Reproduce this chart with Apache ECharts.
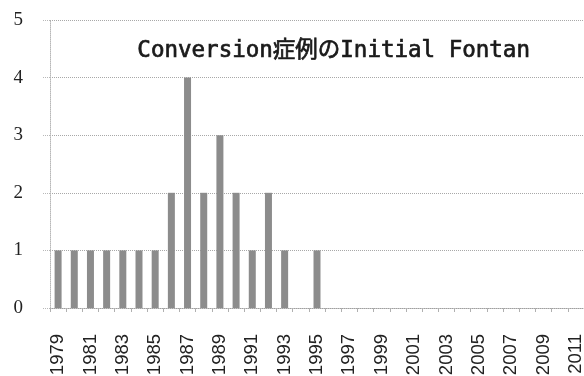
<!DOCTYPE html>
<html>
<head>
<meta charset="utf-8">
<script src="https://cdn.jsdelivr.net/npm/echarts@6/dist/echarts.min.js"></script>
<style>
  html, body { margin: 0; padding: 0; background: #fff; }
  #chart { width: 584px; height: 376px; }
</style>
</head>
<body>
<div id="chart"></div>
<script>
// Years of the initial Fontan operation
const years = [];
for (let y = 1979; y <= 2011; y++) years.push(String(y));

// Number of conversion cases per year of initial Fontan
const cases = [1, 1, 1, 1, 1, 1, 1, 2, 4, 2, 3, 2, 1, 2, 1, 0, 1,
               0, 0, 0, 0, 0, 0, 0, 0, 0, 0, 0, 0, 0, 0, 0, 0];

const yTicks = [0, 1, 2, 3, 4, 5];
const chartTitle = 'Conversion症例のInitial Fontan';

const chart = echarts.init(document.getElementById('chart'), null, { renderer: 'canvas' });

chart.setOption({
  animation: false,
  backgroundColor: '#ffffff',
  grid: { left: 50, right: 0, top: 20, bottom: 68, outerBoundsMode: 'none', containLabel: false },
  graphic: [{
    type: 'text',
    left: 137,
    top: 40,
    style: {
      text: chartTitle,
      font: '22.5px "DejaVu Sans Mono", "Noto Sans CJK JP", monospace',
      fill: '#1a1a1a',
      stroke: '#1a1a1a',
      lineWidth: 0.7
    }
  }],
  xAxis: {
    type: 'category',
    data: years,
    boundaryGap: true,
    axisLine: { show: true, lineStyle: { color: '#a0a0a0', type: 'dotted', width: 1 } },
    axisTick: { show: true, interval: 0, length: 4, lineStyle: { color: '#b0b0b0' } },
    axisLabel: {
      interval: 1,
      rotate: 90,
      margin: 26,
      color: '#222',
      fontFamily: 'Liberation Sans, Arial, sans-serif',
      fontSize: 18.5
    }
  },
  yAxis: {
    type: 'value',
    min: yTicks[0],
    max: yTicks[yTicks.length - 1],
    interval: 1,
    axisLine: { show: true, lineStyle: { color: '#b8b8b8', type: 'dotted' } },
    axisTick: { show: true, length: 8, lineStyle: { color: '#b8b8b8', type: 'dotted' } },
    splitLine: { show: true, lineStyle: { color: '#a8a8a8', type: 'dotted', width: 1 } },
    axisLabel: {
      margin: 27,
      color: '#222',
      fontFamily: 'Liberation Serif, "DejaVu Serif", serif',
      fontSize: 19
    }
  },
  series: [{
    type: 'bar',
    data: cases,
    barWidth: 7,
    itemStyle: { color: '#8c8c8c' }
  }]
});
</script>
</body>
</html>
